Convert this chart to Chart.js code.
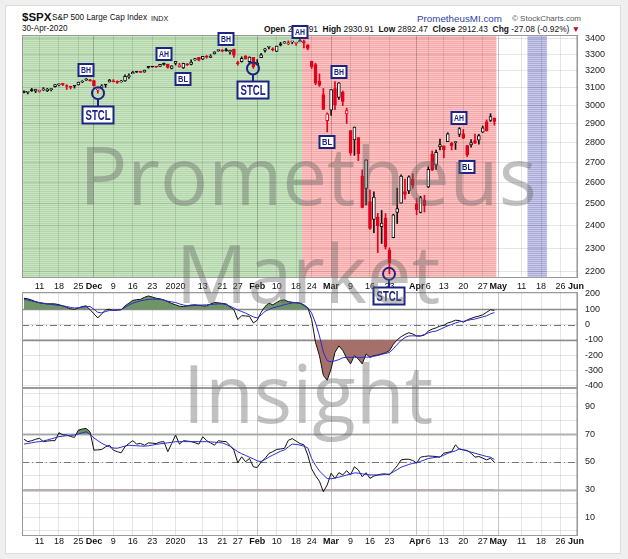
<!DOCTYPE html>
<html lang="en">
<head>
<meta charset="UTF-8">
<title>$SPX S&amp;P 500 Large Cap Index</title>
<script src="https://cdn.jsdelivr.net/npm/chart.js"></script>
<style>
  html, body { margin: 0; padding: 0; background: #efefef; }
  body { width: 628px; height: 559px; position: relative; overflow: hidden; font-family: "Liberation Sans", Arial, sans-serif; }
  #card { position: absolute; left: 5px; top: 5px; width: 614px; height: 547px; background: #fff; border: 1px solid #dcdcdc; }
  canvas { position: absolute; left: 0; }
  .t { position: absolute; white-space: nowrap; color: #111; line-height: 1; z-index: 1; }
  .wm { position: absolute; left: 0; width: 616px; text-align: center; color: rgba(100,100,100,0.4);
        font-family: "Open Sans", sans-serif; font-size: 80px; line-height: 1; pointer-events: none; z-index: 5; }
</style>
</head>
<body>
<div id="card"></div>

<div class="t" style="left:22px; top:12px; font-size:11.5px; font-weight:bold;">$SPX</div>
<div class="t" style="left:52px; top:14px; font-size:8.2px;">S&amp;P 500 Large Cap Index</div>
<div class="t" style="left:151px; top:15px; font-size:7.2px;">INDX</div>
<div class="t" style="left:22px; top:25px; font-size:8.2px;">30-Apr-2020</div>
<div class="t" style="left:417px; top:14px; font-size:9.8px; color:#2f3f9f;">PrometheusMI.com</div>
<div class="t" style="left:512px; top:15px; font-size:8px; color:#555;">&copy; StockCharts.com</div>
<div class="t" id="ohlc" style="right:48px; top:25px; font-size:8.4px;"></div>

<canvas id="price" width="628" height="310" style="top:0; z-index:3;"></canvas>
<canvas id="cci" width="628" height="102" style="top:288px; z-index:2;"></canvas>
<canvas id="rsi" width="628" height="173" style="top:386px; z-index:1;"></canvas>

<div class="wm" style="top:134px;">Prometheus</div>
<div class="wm" style="top:232px;">Market</div>
<div class="wm" style="top:352px;">Insight</div>

<script>
// ---- data ----
const holidays = ['2019-11-28', '2019-12-25', '2020-01-01', '2020-01-20', '2020-02-17', '2020-04-10', '2020-05-25'];

// Nov 5 2019 .. Apr 30 2020
const opens = [3080.80,3075.10,3087.02,3081.25,3080.33,3089.28,3084.18,3090.75,3107.92,3117.91,3127.45,3114.66,3108.49,3111.41,3117.44,3134.85,3145.49,3147.18,
  3143.85,3087.41,3103.50,3119.21,3134.62,3141.86,3135.36,3135.75,3141.23,3166.65,3183.63,3195.40,3195.21,3192.32,3223.33,3226.05,3225.45,3227.20,3247.23,3240.09,3215.18,
  3244.67,3226.36,3217.55,3241.86,3238.59,3266.03,3281.81,3271.13,3285.35,3282.27,3302.97,3323.66,3321.03,3330.02,3315.77,3333.10,3247.16,3255.35,3289.46,3256.45,3282.33,
  3235.66,3280.61,3324.91,3344.92,3335.54,3318.28,3365.87,3370.50,3365.90,3378.08,3369.04,3380.39,3380.45,3360.50,3257.61,3238.94,3139.90,3062.54,2916.90,
  2974.28,3096.46,3045.75,3075.70,2954.20,2863.89,2813.48,2825.60,2630.86,2569.99,2508.59,2425.66,2436.50,2393.48,2431.94,2290.71,2344.44,2457.77,2501.29,2555.87,2558.98,2614.69,
  2498.08,2458.54,2514.92,2578.28,2738.65,2685.00,2776.99,2782.46,2805.10,2795.64,2799.34,2842.43,2845.62,2784.81,2787.89,2810.42,2812.64,2854.65,2909.96,2918.46,2930.91];
const highs = [3083.95,3078.34,3097.77,3093.09,3088.33,3102.61,3098.06,3098.20,3120.46,3124.17,3127.64,3118.97,3110.11,3112.87,3133.83,3142.69,3154.26,3150.30,
  3144.31,3094.97,3119.38,3119.45,3150.60,3148.87,3142.12,3143.98,3176.28,3182.68,3197.71,3198.22,3198.48,3205.48,3225.65,3227.78,3226.43,3240.08,3247.93,3240.92,3231.72,
  3258.14,3246.15,3246.84,3244.91,3267.07,3275.58,3282.99,3288.13,3294.25,3298.66,3317.11,3329.88,3329.79,3337.77,3326.88,3333.18,3258.85,3285.78,3293.47,3285.91,3282.33,
  3268.44,3306.92,3337.58,3347.96,3341.42,3352.26,3375.63,3381.47,3385.09,3380.69,3375.01,3393.52,3389.15,3360.76,3259.81,3246.99,3182.51,3097.07,2959.72,
  3090.96,3136.72,3130.97,3083.04,2985.93,2863.89,2882.59,2825.60,2660.95,2711.33,2562.98,2553.93,2453.57,2466.97,2453.01,2300.73,2449.71,2571.42,2637.01,2615.91,2631.80,2641.39,
  2522.75,2533.22,2538.18,2676.85,2756.89,2760.75,2818.57,2782.46,2851.85,2801.88,2806.51,2879.22,2868.98,2785.54,2815.10,2844.90,2842.71,2887.72,2921.15,2954.86,2930.91];
const lows = [3072.15,3065.89,3080.23,3073.58,3075.82,3084.73,3078.80,3083.26,3104.60,3112.06,3113.47,3091.41,3094.55,3099.26,3117.44,3131.00,3143.41,3139.34,
  3110.78,3070.33,3102.53,3103.76,3134.62,3135.46,3126.09,3133.21,3138.47,3156.51,3183.63,3191.03,3191.14,3192.32,3216.03,3222.30,3220.51,3227.20,3234.37,3216.57,3212.03,
  3235.53,3222.34,3214.64,3232.43,3236.67,3263.67,3260.86,3268.43,3277.19,3280.69,3302.82,3318.86,3316.61,3320.04,3301.87,3281.53,3234.50,3253.22,3271.89,3242.80,3214.68,
  3235.66,3280.61,3313.75,3334.39,3322.12,3317.77,3352.72,3369.72,3360.52,3366.15,3355.61,3378.83,3341.02,3328.45,3214.65,3118.77,3108.99,2977.39,2855.84,
  2945.19,2976.63,3034.38,2999.83,2901.54,2734.43,2734.00,2707.22,2478.86,2492.37,2380.94,2367.04,2280.52,2319.78,2295.56,2191.86,2344.44,2407.53,2500.72,2520.02,2545.28,2571.15,
  2447.49,2455.79,2459.96,2574.57,2657.67,2663.30,2762.36,2721.17,2805.10,2761.54,2764.32,2830.88,2820.43,2727.10,2775.95,2794.26,2791.76,2852.89,2860.71,2912.16,2892.47];
const closes = [3074.62,3076.78,3085.18,3093.08,3087.01,3091.84,3094.04,3096.63,3120.46,3122.03,3120.18,3108.46,3103.54,3110.29,3133.64,3140.52,3153.63,3140.98,
  3113.87,3093.20,3112.76,3117.43,3145.91,3135.96,3132.52,3141.63,3168.57,3168.80,3191.45,3192.52,3191.14,3205.37,3221.22,3224.01,3223.38,3239.91,3240.02,3221.29,3230.78,
  3257.85,3234.85,3246.28,3237.18,3253.05,3274.70,3265.35,3288.13,3283.15,3289.29,3316.81,3329.62,3320.79,3321.75,3325.54,3295.47,3243.63,3276.24,3273.40,3283.66,3225.52,
  3248.92,3297.59,3334.69,3345.78,3327.71,3352.09,3357.75,3379.45,3373.94,3380.16,3370.29,3386.15,3373.23,3337.75,3225.89,3128.21,3116.39,2978.76,2954.22,
  3090.23,3003.37,3130.12,3023.94,2972.37,2746.56,2882.23,2741.38,2480.64,2711.02,2386.13,2529.19,2398.10,2409.39,2304.92,2237.40,2447.33,2475.56,2630.07,2541.47,2626.65,2584.59,
  2470.50,2526.90,2488.65,2663.68,2659.41,2749.98,2789.82,2761.63,2846.06,2783.36,2799.55,2874.56,2823.16,2736.56,2799.31,2797.80,2836.74,2878.48,2863.39,2939.51,2912.43];

// upper indicator (black) and its signal (blue)
const cci = [172,168,160,150,142,138,135,136,135,130,122,112,103,100,108,118,122,97,70,43,70,95,100,92,94,97,122,140,158,163,165,178,187,180,172,168,161,150,138,129,
  120,118,122,128,129,126,122,122,135,144,142,138,135,115,97,32,58,56,54,10,28,80,118,140,129,145,158,161,150,146,142,140,125,110,32,-118,-204,-333,-366,-290,
  -183,-140,-170,-220,-258,-204,-226,-258,-193,-215,-204,-200,-193,-185,-172,-130,-100,-80,-65,-54,-62,-75,-75,-70,-43,-30,-22,-10,-5,10,18,28,26,15,30,40,49,55,64,80,97,92];
const cciSignal = [165,160,154,148,144,140,136,132,128,125,122,118,112,108,110,114,117,118,100,80,76,85,92,94,96,97,112,128,140,148,155,160,165,166,166,165,160,153,148,144,
  135,128,122,123,125,127,128,129,131,133,135,135,130,120,108,95,85,75,62,50,43,62,86,98,108,116,122,130,136,141,144,141,130,110,75,10,-75,-180,-237,-245,
  -238,-230,-218,-215,-215,-215,-216,-215,-214,-213,-208,-203,-195,-190,-183,-160,-130,-105,-85,-75,-74,-75,-75,-65,-55,-47,-43,-32,-20,-9,0,10,18,21,26,32,36,43,50,57,70,78];

// lower indicator (black) and its signal (blue)
const rsi = [66.5,64.8,65.5,66.5,67.2,64.8,65.2,65.5,65.5,71.3,69.8,69.6,68.5,67.9,73.2,74,74.4,72,58.6,58.8,59.1,61,62.2,58.6,57.5,56.7,61.1,63.5,65.5,63,
  63.5,62.2,63.9,63.7,63.4,64.5,64.8,57.5,63.4,69.6,63,65.5,65.2,64.8,64,63,68.4,65.5,63.9,62.2,65.5,65,64.8,62,58.6,49.4,53.8,50.2,52.6,46.5,
  46,50,52.6,56.2,57.5,59.1,59.5,59.9,65.8,67,65.2,63.4,62.5,55,45,40,36,28.4,33.3,41.8,38.1,42.2,40.6,43.7,40.6,46.5,44.2,39.3,42.2,38.1,
  39.8,40.5,41.3,41.3,40.6,44,47.2,51.5,52,52,51.1,49.2,53.5,54,54.4,54.2,54,53.5,56.4,57,57.6,62.5,59.3,58.8,58.4,56.4,53.5,54,52.8,51.5,52.8,49.7];
const rsiSignal = [63,63.5,64,64.5,64.8,65.3,66,66.8,67.6,68.4,68.8,69.1,69.4,69.6,70.4,71.2,72,70,67.5,65.5,63.6,62.2,61,60.2,60,60.8,61.6,62.2,62,61.8,
  61.6,61.5,61.8,62.3,62.8,63.2,63.6,63.9,64.3,64.8,64.8,64.8,64.8,64.8,64.8,64.8,64.8,64.8,64.6,64.4,64.1,63.9,62.8,61.5,59.5,57.5,56,54.8,53.5,52.3,
  50.8,50.4,51.8,53.6,55,56.4,57.8,58.8,61,63,62.8,62.3,61.5,60.3,52.5,47.5,43.5,40.6,38,37.8,38.3,39,39.8,40.5,41.2,42.1,41.9,41.4,41,40.6,
  40.6,40.6,40.6,41,41.3,42.8,44.4,46.2,47.2,48.2,49,49.4,50.4,51.5,52.5,53,53.4,53.7,55,56.3,57.3,58.1,59.6,58.8,58,57.2,56.4,55.6,54.8,54,53.5,51.8];

// date axis ticks (index into trading days)
const tickIdx  = [4, 9, 14, 18, 23, 28, 33, 39, 46, 51, 55, 60, 65, 70, 74, 79, 84, 89, 94, 101, 104, 108, 113, 118, 122, 128, 133, 138, 142];
const tickText = ['11','18','25','Dec','9','16','23','2020','13','21','27','Feb','10','18','24','Mar','9','16','23','Apr','6','13','20','27','May','11','18','26','Jun'];
const priceTicks = [2200, 2300, 2400, 2500, 2600, 2700, 2800, 2900, 3000, 3100, 3200, 3300, 3400];
const cciTicks = [200, 100, 0, -100, -200, -300, -400];
const rsiTicks = [0, 10, 20, 30, 40, 50, 60, 70, 80, 90, 100];
const cciBands = [100, -100];
const rsiBands = [70, 30];

// shaded periods (trading-day index from..to)
const zoneFrom = [0, 72, 130];
const zoneTo   = [71, 121, 134];

// chart notes: text, trading-day index, price anchor
const noteText  = ['BH', 'STCL', 'AH', 'BL', 'BH', 'STCL', 'AH', 'BL', 'BH', 'STCL', 'AH', 'BL'];
const noteIdx   = [16, 19, 36, 41, 52, 59, 71, 78, 81, 94, 112, 114];
const notePrice = [3203, 2945, 3300, 3150, 3394, 3086, 3444, 2802, 3191, 2104, 2930, 2675];

// ---- build ----
function tradingDays(start, end) {
  const out = [];
  const d = new Date(start + 'T00:00:00Z');
  const stop = new Date(end + 'T00:00:00Z');
  while (d <= stop) {
    const iso = d.toISOString().slice(0, 10);
    const wd = d.getUTCDay();
    if (wd !== 0 && wd !== 6 && !holidays.includes(iso)) out.push(iso);
    d.setUTCDate(d.getUTCDate() + 1);
  }
  return out;
}
const dates = tradingDays('2019-11-05', '2020-06-01');

const last = closes.length - 1;
const chg = closes[last] - closes[last - 1];
document.getElementById('ohlc').innerHTML =
  `<b>Open</b> ${opens[last].toFixed(2)} &nbsp;<b>High</b> ${highs[last].toFixed(2)} &nbsp;<b>Low</b> ${lows[last].toFixed(2)} &nbsp;` +
  `<b>Close</b> ${closes[last].toFixed(2)} &nbsp;<b>Chg</b> ${chg.toFixed(2)} (${(chg / closes[last - 1] * 100).toFixed(2)}%) <span style="color:#c0002a">&#9660;</span>`;

Chart.defaults.font.family = '"Liberation Sans", Arial, sans-serif';
Chart.defaults.font.size = 9;
Chart.defaults.color = '#222';

const RED = '#e3001b';
const NAVY = '#1b2483';
const isMonth = v => isNaN(Number(tickText[tickIdx.indexOf(v)]));
const colorOf = i => (i === 0 || closes[i] >= closes[i - 1]) ? '#111' : RED;

function stripes(base, line) {
  const c = document.createElement('canvas');
  c.width = 4; c.height = 2;
  const g = c.getContext('2d');
  g.fillStyle = base; g.fillRect(0, 0, 4, 2);
  g.fillStyle = line; g.fillRect(0, 1, 4, 1);
  return g.createPattern(c, 'repeat');
}
const zoneFill = [stripes('#c8e4c2', '#b3d7ab'), stripes('#fcc4c4', '#f6a9a9'), stripes('#c9c9ea', '#ababda')];

// keep plot areas fixed: no extra room reserved for half labels
function noPad(s) { s.paddingTop = 0; s.paddingBottom = 0; s.paddingLeft = 0; s.paddingRight = 0; }

function xScale(showLabels, pad) {
  return {
    type: 'category', offset: true,
    afterBuildTicks: s => { s.ticks = s.ticks.filter(t => tickIdx.includes(t.value)); },
    afterFit: s => { s.height = showLabels ? 14 : 0; noPad(s); },
    ticks: {
      display: showLabels, autoSkip: false, maxRotation: 0, padding: pad, color: '#111',
      callback: v => tickText[tickIdx.indexOf(v)],
      font: c => ({ size: 9, weight: isMonth(c.tick.value) ? 'bold' : 'normal' })
    },
    grid: {
      offset: false, drawTicks: false,
      color: c => isMonth(c.tick.value) ? 'rgba(0,0,0,0.22)' : 'rgba(0,0,0,0.10)'
    },
    border: { display: false }
  };
}
function yScale(extra) {
  return Object.assign({
    position: 'right',
    afterFit: s => { s.width = 50; noPad(s); },
    grid: { drawTicks: false, color: 'rgba(0,0,0,0.10)' },
    border: { display: false }
  }, extra);
}

const frame = {
  id: 'frame',
  afterDatasetsDraw(chart) {
    const { ctx, chartArea: a } = chart;
    ctx.save();
    ctx.strokeStyle = '#9a9a9a'; ctx.lineWidth = 1;
    ctx.strokeRect(Math.round(a.left) + 0.5, Math.round(a.top) + 0.5, Math.round(a.right - a.left) - 1, Math.round(a.bottom - a.top) - 1);
    ctx.restore();
  }
};

const bands = {
  id: 'bands',
  beforeDatasetsDraw(chart, args, opts) {
    const { ctx, chartArea: a, scales: { y } } = chart;
    ctx.save();
    (opts.solid || []).forEach(v => {
      const py = Math.round(y.getPixelForValue(v)) + 0.5;
      ctx.strokeStyle = opts.solidColor; ctx.lineWidth = opts.solidWidth; ctx.setLineDash([]);
      ctx.beginPath(); ctx.moveTo(a.left, py); ctx.lineTo(a.right, py); ctx.stroke();
    });
    if (opts.mid !== undefined) {
      const py = Math.round(y.getPixelForValue(opts.mid)) + 0.5;
      ctx.strokeStyle = '#777'; ctx.lineWidth = 1; ctx.setLineDash([7, 3, 1, 3]);
      ctx.beginPath(); ctx.moveTo(a.left, py); ctx.lineTo(a.right, py); ctx.stroke();
    }
    ctx.restore();
  }
};

const zones = {
  id: 'zones',
  beforeDraw(chart) {
    const { ctx, chartArea: a, scales: { x } } = chart;
    const half = (x.getPixelForValue(1) - x.getPixelForValue(0)) / 2;
    ctx.save();
    zoneFrom.forEach((f, k) => {
      const x0 = x.getPixelForValue(f) - half;
      const x1 = x.getPixelForValue(zoneTo[k]) + half;
      ctx.fillStyle = zoneFill[k];
      ctx.fillRect(x0, a.top, x1 - x0, a.bottom - a.top);
    });
    ctx.restore();
  }
};

function narrowText(ctx, text, cx, cy, size, width) {
  ctx.font = `bold ${size}px "Liberation Sans", Arial, sans-serif`;
  const w = ctx.measureText(text).width;
  ctx.save();
  ctx.translate(cx, cy);
  ctx.scale(Math.min(1, width / w), 1);
  ctx.textAlign = 'center'; ctx.textBaseline = 'middle';
  ctx.fillText(text, 0, 1);
  ctx.restore();
}

const notes = {
  id: 'notes',
  afterDraw(chart) {
    const { ctx, scales: { x, y } } = chart;
    ctx.save();
    ctx.strokeStyle = NAVY; ctx.fillStyle = NAVY; ctx.lineWidth = 2;
    noteText.forEach((t, k) => {
      const cx = Math.round(x.getPixelForValue(noteIdx[k]));
      const cy = Math.round(y.getPixelForValue(notePrice[k]));
      const big = t === 'STCL';
      const w = big ? 31 : 15, h = big ? 17 : 12;
      if (big) {
        const ly = y.getPixelForValue(lows[noteIdx[k]]);
        ctx.beginPath(); ctx.arc(cx, ly, 6, 0, Math.PI * 2); ctx.stroke();
        const dir = cy > ly ? 1 : -1;
        ctx.beginPath(); ctx.moveTo(cx, ly + dir * 6); ctx.lineTo(cx, cy - dir * h / 2); ctx.stroke();
      }
      ctx.fillStyle = '#fff';
      ctx.fillRect(cx - w / 2, cy - h / 2, w, h);
      ctx.strokeRect(cx - w / 2, cy - h / 2, w, h);
      ctx.fillStyle = NAVY;
      if (big) narrowText(ctx, t, cx, cy, 14, 25);
      else narrowText(ctx, t, cx, cy, 9, 10);
    });
    ctx.restore();
  }
};

new Chart(document.getElementById('price'), {
  type: 'bar',
  data: {
    labels: dates,
    datasets: [
      {
        label: 'body', order: 1, grouped: false,
        data: opens.map((o, i) => [o, closes[i]]),
        backgroundColor: c => closes[c.dataIndex] >= opens[c.dataIndex] ? '#fff' : colorOf(c.dataIndex),
        borderColor: c => colorOf(c.dataIndex),
        borderWidth: 1, borderSkipped: false, barThickness: 3, minBarLength: 1
      },
      {
        label: 'wick', order: 2, grouped: false,
        data: lows.map((l, i) => [l, highs[i]]),
        backgroundColor: c => colorOf(c.dataIndex),
        borderWidth: 0, barThickness: 1
      }
    ]
  },
  options: {
    responsive: false, animation: false,
    layout: { padding: { left: 22, top: 35, right: 0, bottom: 18 } },
    plugins: { legend: { display: false }, tooltip: { enabled: false } },
    scales: {
      x: xScale(true, 3),
      y: yScale({
        type: 'logarithmic', min: 2175, max: 3422,
        afterBuildTicks: s => { s.ticks = priceTicks.map(v => ({ value: v })); },
        ticks: { padding: 7, autoSkip: false, color: '#222', callback: v => String(v) }
      })
    }
  },
  plugins: [zones, frame, notes]
});

new Chart(document.getElementById('cci'), {
  type: 'line',
  data: {
    labels: dates,
    datasets: [
      { data: cci, borderColor: '#111', borderWidth: 1, pointRadius: 0, order: 1,
        fill: { target: { value: 100 }, above: '#6f9566', below: 'rgba(0,0,0,0)' } },
      { data: cciSignal, borderColor: '#2a2ad2', borderWidth: 1, pointRadius: 0, order: 0, fill: false },
      { data: cci, borderWidth: 0, borderColor: 'rgba(0,0,0,0)', pointRadius: 0, order: 3,
        fill: { target: { value: -100 }, above: 'rgba(0,0,0,0)', below: '#a5706a' } }
    ]
  },
  options: {
    responsive: false, animation: false,
    layout: { padding: { left: 22, top: 4, right: 0, bottom: 2 } },
    plugins: {
      legend: { display: false }, tooltip: { enabled: false },
      bands: { solid: cciBands, solidColor: '#8c8c8c', solidWidth: 1.5, mid: 0 }
    },
    scales: {
      x: xScale(false, 0),
      y: yScale({
        min: -416, max: 213,
        afterBuildTicks: s => { s.ticks = cciTicks.map(v => ({ value: v })); },
        ticks: { padding: 7, autoSkip: false, color: '#222' }
      })
    }
  },
  plugins: [bands, frame]
});

new Chart(document.getElementById('rsi'), {
  type: 'line',
  data: {
    labels: dates,
    datasets: [
      { data: rsi, borderColor: '#111', borderWidth: 1, pointRadius: 0, order: 1,
        fill: { target: { value: 70 }, above: '#6f9566', below: 'rgba(0,0,0,0)' } },
      { data: rsiSignal, borderColor: '#2a2ad2', borderWidth: 1, pointRadius: 0, order: 0, fill: false },
      { data: rsi, borderWidth: 0, borderColor: 'rgba(0,0,0,0)', pointRadius: 0, order: 3,
        fill: { target: { value: 30 }, above: 'rgba(0,0,0,0)', below: '#b5524a' } }
    ]
  },
  options: {
    responsive: false, animation: false,
    layout: { padding: { left: 22, top: 2, right: 0, bottom: 9 } },
    plugins: {
      legend: { display: false }, tooltip: { enabled: false },
      bands: { solid: rsiBands, solidColor: '#b0b0b0', solidWidth: 2, mid: 50 }
    },
    scales: {
      x: xScale(true, 0),
      y: yScale({
        min: -3.8, max: 103.8,
        afterBuildTicks: s => { s.ticks = rsiTicks.map(v => ({ value: v })); },
        ticks: { padding: 7, autoSkip: false, color: '#222', callback: v => (v % 20 === 10 ? String(v) : '') }
      })
    }
  },
  plugins: [bands, frame]
});
</script>
</body>
</html>
